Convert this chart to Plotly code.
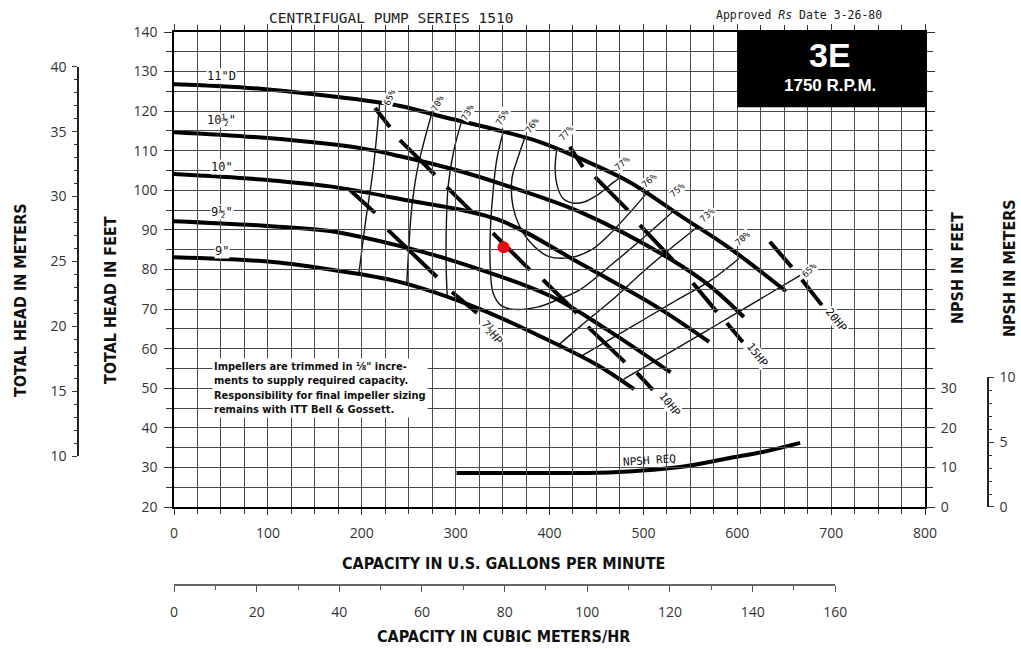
import plotly.graph_objects as go

W, H = 1021, 649

# ---- impeller head-capacity curves: capacity (US gpm) vs total head (ft)
q_11 = [0, 50, 100, 177, 241, 284, 340, 390, 433, 486, 540, 593, 652]
h_11 = [126.8, 126.3, 125.5, 123.5, 121.3, 118.7, 115.5, 112.2, 108.0, 102.0, 93.5, 85.2, 74.5]
q_105 = [0, 100, 200, 241, 302, 350, 433, 529, 570, 607]
h_105 = [114.7, 113.2, 110.6, 108.6, 105.0, 101.5, 94.5, 82.6, 76.0, 68.0]
q_10 = [0, 100, 166, 241, 344, 433, 518, 570]
h_10 = [104.1, 102.6, 101.0, 97.8, 92.7, 81.5, 70.0, 61.7]
q_95 = [0, 100, 166, 241, 300, 401, 460, 529]
h_95 = [92.2, 91.0, 89.7, 85.9, 82.0, 73.3, 65.0, 54.0]
q_9 = [0, 100, 166, 241, 326, 400, 450, 490]
h_9 = [83.1, 82.0, 80.0, 76.8, 70.0, 62.0, 56.0, 49.8]

impeller_labels = ['11"D', '10½"', '10"', '9½"', '9"']
impeller_label_q = [51, 51, 51, 51, 51]
impeller_label_h = [128.9, 117.8, 105.9, 94.5, 84.7]

# ---- iso-efficiency contours (gpm, ft)
e65_left_q = [219, 212, 204, 197]
e65_left_h = [121.8, 105.0, 92.0, 79.0]
e70_q = [275, 266, 259, 253, 250, 248]
e70_h = [119.8, 112.0, 105.0, 95.0, 85.0, 76.5]
e73_left_q = [307, 298, 292, 290, 290, 291]
e73_left_h = [118.0, 110.0, 101.0, 90.0, 80.0, 73.5]
e75_q = [351, 344, 340, 337, 337, 340, 348, 360, 387, 410, 433, 470, 500, 531]
e75_h = [115.0, 108.0, 100.0, 90.0, 80.0, 74.0, 71.0, 70.0, 70.5, 72.5, 75.0, 82.0, 88.0, 94.5]
e76_q = [374, 366, 360, 361, 368, 379, 398, 422, 445, 462, 486, 506]
e76_h = [113.5, 108.0, 103.0, 96.0, 91.0, 87.0, 83.4, 83.0, 85.0, 88.4, 94.5, 100.0]
e77_q = [408, 406, 409, 415, 425, 436, 452, 468, 477]
e77_h = [110.8, 105.4, 100.5, 97.8, 96.8, 97.0, 99.0, 102.0, 103.5]
e73_right_q = [410, 433, 470, 500, 530, 558]
e73_right_h = [61.0, 65.7, 73.0, 79.5, 85.5, 90.8]
e70_right_q = [433, 480, 530, 570, 602]
e70_right_h = [58.0, 64.5, 71.5, 77.0, 82.8]
e65_right_q = [479, 530, 580, 630, 667]
e65_right_h = [52.3, 59.3, 66.3, 73.3, 78.5]

eff_labels = ['65%', '70%', '73%', '75%', '76%', '77%',
              '77%', '76%', '75%', '73%', '70%', '65%']
eff_label_q = [230, 281, 313, 350, 382, 418, 478, 507, 536, 568, 606, 677]
eff_label_h = [123.6, 122.1, 119.8, 118.5, 116.5, 114.5, 106.9, 102.6, 100.1, 93.8, 88.0, 79.9]
eff_label_angle = [-68, -62, -62, -60, -55, -50, -42, -42, -42, -42, -42, -45]

# ---- brake horsepower lines, drawn as dash segments (gpm, ft)
hp75_q = [187.4, 214.1, None, 227.9, 280.1, None, 296.1, 322.7]
hp75_h = [100.1, 94.3, None, 90.0, 78.1, None, 74.3, 69.0]
hp10_q = [214.1, 230.0, None, 240.7, 278.0, None, 290.7, 318.4, None, 339.7, 379.1,
          None, 393.0, 429.2, None, 440.9, 480.3, None, 493.1, 510.1]
hp10_h = [120.8, 116.0, None, 112.7, 103.9, None, 100.8, 94.3, None, 89.2, 79.9,
          None, 77.4, 69.0, None, 65.5, 56.6, None, 53.9, 49.6]
hp15_q = [421.7, 435.6, None, 448.4, 483.5, None, 496.3, 531.4, None, 552.7, 578.3,
          None, 588.9, 605.9]
hp15_h = [111.0, 105.9, None, 103.4, 95.0, None, 91.2, 82.4, None, 76.6, 69.3,
          None, 66.5, 61.7]
hp20_q = [634.7, 658.1, None, 668.8, 690.1]
hp20_h = [87.0, 80.6, None, 77.4, 71.0]

hp_labels = ['7½HP', '10HP', '15HP', '20HP']
hp_label_q = [339, 528, 622, 706]
hp_label_h = [64.2, 45.8, 58.4, 67.2]

# ---- NPSH required (gpm, ft of NPSH)
npsh_q = [301, 397, 468, 539, 592, 627, 667]
npsh_ft = [8.6, 8.6, 8.8, 10.1, 12.4, 13.9, 16.2]

# ---- duty point
duty_q = [351]
duty_h = [85.6]

# ---- tick labels
gpm_ticks = [0, 100, 200, 300, 400, 500, 600, 700, 800]
ft_ticks = [20, 30, 40, 50, 60, 70, 80, 90, 100, 110, 120, 130, 140]
npsh_ft_ticks = [0, 10, 20, 30]
m_ticks = [10, 15, 20, 25, 30, 35, 40]
npsh_m_ticks = [0, 5, 10]
m3h_ticks = [0, 20, 40, 60, 80, 100, 120, 140, 160]

FT_PER_M = 3.2808
GPM_PER_M3H = 4.4029

TICK_FONT = dict(family="Open Sans, Lato, sans-serif", size=14, color="#333")
LETTER = "DejaVu Sans Mono, Liberation Mono, monospace"
BOLD_NARROW = "Liberation Sans Narrow, DejaVu Sans Condensed, Arial Narrow, sans-serif"

fig = go.Figure()


def curve(q, h, width, shape="spline", color="black", yaxis="y"):
    fig.add_trace(go.Scatter(x=q, y=h, mode="lines", yaxis=yaxis,
                             line=dict(color=color, width=width, shape=shape),
                             hoverinfo="skip", showlegend=False))


# efficiency contours (thin)
for q, h in [(e65_left_q, e65_left_h), (e70_q, e70_h), (e73_left_q, e73_left_h),
             (e75_q, e75_h), (e76_q, e76_h), (e77_q, e77_h),
             (e73_right_q, e73_right_h), (e70_right_q, e70_right_h),
             (e65_right_q, e65_right_h)]:
    curve(q, h, 1.4, color="#111")

# impeller curves (heavy)
for q, h in [(q_11, h_11), (q_105, h_105), (q_10, h_10), (q_95, h_95), (q_9, h_9)]:
    curve(q, h, 4)

# horsepower dashes
for q, h in [(hp75_q, hp75_h), (hp10_q, hp10_h), (hp15_q, hp15_h), (hp20_q, hp20_h)]:
    curve(q, h, 4, shape="linear")

# NPSH required on the right-hand NPSH axis
curve(npsh_q, npsh_ft, 4, yaxis="y2")

# duty point
fig.add_trace(go.Scatter(x=duty_q, y=duty_h, mode="markers",
                         marker=dict(color="#ff0000", size=12),
                         hoverinfo="skip", showlegend=False))

# carriers for the metric scales
fig.add_trace(go.Scatter(x=[0], y=[20], xaxis="x2", yaxis="y", mode="markers",
                         marker=dict(opacity=0), hoverinfo="skip", showlegend=False))
fig.add_trace(go.Scatter(x=[0], y=[10], xaxis="x", yaxis="y3", mode="markers",
                         marker=dict(opacity=0), hoverinfo="skip", showlegend=False))
fig.add_trace(go.Scatter(x=[0], y=[0], xaxis="x", yaxis="y4", mode="markers",
                         marker=dict(opacity=0), hoverinfo="skip", showlegend=False))

# pixel layout of the plotting grid
X0, X1 = 174, 925          # 0 and 800 gpm
Y0, Y1 = 507, 32           # 20 and 140 ft
ft_px = (Y0 - Y1) / 120.0


def head_to_py(ft):
    return Y0 - (ft - 20) * ft_px


grid_col = "#4a4a4a"
xaxis = dict(domain=[X0 / W, X1 / W], range=[0, 800], anchor="y", automargin=False,
             tickvals=gpm_ticks, ticks="outside", ticklen=6, tickcolor="#333",
             showgrid=True, gridcolor=grid_col, gridwidth=1,
             minor=dict(dtick=25, ticks="outside", ticklen=5, tickcolor="#333",
                        showgrid=True, gridcolor=grid_col, gridwidth=1),
             showline=True, linecolor="black", linewidth=1.5, mirror="ticks",
             zeroline=False, tickfont=TICK_FONT, ticklabelstandoff=6)
yaxis = dict(domain=[1 - Y0 / H, 1 - Y1 / H], range=[20, 140], anchor="x", automargin=False,
             tickvals=ft_ticks, ticks="outside", ticklen=8, tickcolor="#333",
             showgrid=True, gridcolor=grid_col, gridwidth=1,
             minor=dict(dtick=5, ticks="outside", ticklen=6, tickcolor="#333",
                        showgrid=True, gridcolor=grid_col, gridwidth=1),
             showline=True, linecolor="black", linewidth=1.5, mirror="ticks",
             zeroline=False, tickfont=TICK_FONT, ticklabelstandoff=4)
# NPSH zero sits on the 20 ft head line
yaxis2 = dict(overlaying="y", side="right", range=[0, 120], anchor="x", automargin=False,
              tickvals=npsh_ft_ticks, ticks="outside", ticklen=8, tickcolor="#333",
              showgrid=False, zeroline=False, showline=False,
              tickfont=TICK_FONT, ticklabelstandoff=4)

m_lo_py = head_to_py(10 * FT_PER_M)
m_hi_py = head_to_py(40 * FT_PER_M)
yaxis3 = dict(anchor="free", position=78 / W, side="left", automargin=False,
              domain=[1 - m_lo_py / H, 1 - m_hi_py / H], range=[10, 40],
              tickvals=m_ticks, ticks="outside", ticklen=5, tickcolor="#333",
              minor=dict(dtick=1, ticks="outside", ticklen=3, tickcolor="#333"),
              showgrid=False, zeroline=False, showline=True, linecolor="#222",
              linewidth=1.5, tickfont=TICK_FONT, ticklabelstandoff=3)

nm_hi_py = head_to_py(20 + 10 * FT_PER_M)
yaxis4 = dict(anchor="free", position=988 / W, side="right", automargin=False,
              domain=[1 - Y0 / H, 1 - nm_hi_py / H], range=[0, 10],
              tickvals=npsh_m_ticks, ticks="outside", ticklen=5, tickcolor="#333",
              minor=dict(dtick=1, ticks="outside", ticklen=3, tickcolor="#333"),
              showgrid=False, zeroline=False, showline=True, linecolor="#222",
              linewidth=1.5, tickfont=TICK_FONT, ticklabelstandoff=3)

m3_x1 = X0 + 160 * GPM_PER_M3H * (X1 - X0) / 800.0
xaxis2 = dict(anchor="free", position=1 - 585 / H, side="bottom", automargin=False,
              domain=[X0 / W, m3_x1 / W], range=[0, 160],
              tickvals=m3h_ticks, ticks="outside", ticklen=6, tickcolor="#555",
              minor=dict(dtick=10, ticks="outside", ticklen=4, tickcolor="#555"),
              showgrid=False, zeroline=False, showline=True, linecolor="#666",
              linewidth=1.5, tickfont=TICK_FONT, ticklabelstandoff=8)

annotations = []

# impeller diameter labels
for t, q, h in zip(impeller_labels, impeller_label_q, impeller_label_h):
    annotations.append(dict(x=q, y=h, text=t, showarrow=False, bgcolor="white",
                            font=dict(family=LETTER, size=12, color="#111"), borderpad=0))

# efficiency labels
for t, q, h, a in zip(eff_labels, eff_label_q, eff_label_h, eff_label_angle):
    annotations.append(dict(x=q, y=h, text=t, showarrow=False, textangle=a,
                            bgcolor="white", borderpad=0,
                            font=dict(family=LETTER, size=9, color="#111")))

# horsepower labels
for t, q, h in zip(hp_labels, hp_label_q, hp_label_h):
    annotations.append(dict(x=q, y=h, text=t, showarrow=False, textangle=52,
                            bgcolor="white", borderpad=0,
                            font=dict(family=LETTER, size=11, color="#111")))

# NPSH required label
annotations.append(dict(x=507, y=31.8, text="NPSH REQ", showarrow=False, textangle=-4,
                        font=dict(family=LETTER, size=11, color="#111")))

# impeller trim note
annotations.append(dict(x=212 / W, y=1 - 358 / H, xref="paper", yref="paper",
                        xanchor="left", yanchor="top", align="left",
                        text="<b>Impellers are trimmed in ⅛\" incre-<br>"
                             "ments to supply required capacity.<br>"
                             "Responsibility for final impeller sizing<br>"
                             "remains with ITT Bell &amp; Gossett.</b>",
                        showarrow=False, bgcolor="white", borderpad=1,
                        font=dict(family=BOLD_NARROW, size=11, color="#111")))

# model block
annotations.append(dict(x=699, y=134.2, text="<b>3E</b>", showarrow=False,
                        font=dict(family="Liberation Sans, Arial, sans-serif", size=34,
                                  color="white")))
annotations.append(dict(x=699, y=126.4, text="<b>1750 R.P.M.</b>", showarrow=False,
                        font=dict(family="Liberation Sans, Arial, sans-serif", size=17,
                                  color="white")))


def paper_text(text, px, py, font, angle=0):
    annotations.append(dict(x=px / W, y=1 - py / H, xref="paper", yref="paper",
                            xanchor="center", yanchor="middle",
                            text=text, showarrow=False, textangle=angle, font=font))


# header texts
paper_text("CENTRIFUGAL PUMP SERIES 1510", 391, 18,
           dict(family=LETTER, size=14.5, color="#222"))
paper_text("Approved <i>Rs</i> Date 3-26-80", 799, 15,
           dict(family=LETTER, size=11.5, color="#222"))

# axis titles
title_font = dict(family=BOLD_NARROW, size=16, color="#111")
for t, px, py, ang in [("CAPACITY IN U.S. GALLONS PER MINUTE", 503, 563, 0),
                       ("CAPACITY IN CUBIC METERS/HR", 503, 636, 0),
                       ("TOTAL HEAD IN FEET", 110, 300, -90),
                       ("TOTAL HEAD IN METERS", 20, 300, -90),
                       ("NPSH IN FEET", 958, 268, -90),
                       ("NPSH IN METERS", 1010, 268, -90)]:
    paper_text("<b>%s</b>" % t, px, py, title_font, ang)

shapes = [dict(type="rect", xref="x", yref="y", x0=600, x1=800, y0=121.0, y1=141.3,
               fillcolor="black", line=dict(color="black", width=0), layer="above")]

fig.update_layout(width=W, height=H, autosize=False,
                  margin=dict(l=0, r=0, t=0, b=0),
                  paper_bgcolor="white", plot_bgcolor="rgba(0,0,0,0)",
                  showlegend=False,
                  xaxis=xaxis, xaxis2=xaxis2, yaxis=yaxis, yaxis2=yaxis2,
                  yaxis3=yaxis3, yaxis4=yaxis4,
                  annotations=annotations, shapes=shapes)

fig.write_html("out.html")
